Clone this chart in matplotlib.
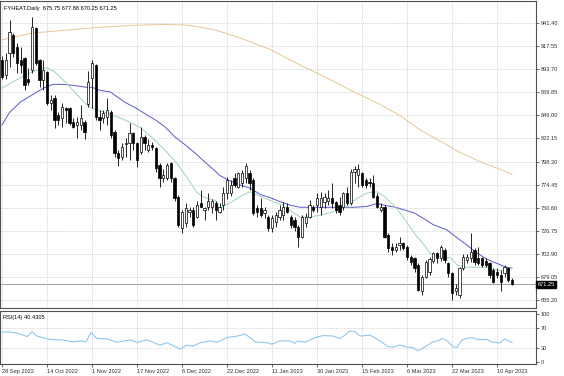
import numpy as np
import matplotlib.pyplot as plt

# daily candles, bar 0 = 28 Sep 2022
opens = [903, 888, 910, 929, 917, 903, 905, 884, 893, 936, 903, 882, 891, 859, 864, 846, 843, 854, 854, 839,
         836, 836, 839, 858, 885, 898, 844, 843, 844, 849, 829, 807, 803, 816, 817, 828, 817, 808, 824, 810,
         815, 812, 795, 781, 781, 797, 781, 762, 730, 735, 746, 748, 741, 755, 748, 751, 751, 755, 746, 753,
         766, 766, 781, 772, 776, 781, 786, 779, 750, 750, 745, 741, 730, 736, 741, 743, 751, 741, 738, 731,
         720, 735, 741, 751, 753, 751, 756, 758, 761, 756, 753, 751, 766, 755, 787, 784, 786, 779, 777, 776,
         763, 748, 751, 722, 710, 707, 712, 714, 710, 700, 699, 691, 664, 679, 684, 696, 704, 699, 707, 693,
         683, 665, 660, 688, 697, 699, 707, 699, 699, 696, 693, 686, 684, 681, 683, 688, 675.75]
highs = [907, 910, 944, 931, 921, 917, 906, 895, 948, 937, 904, 903, 892, 867, 867, 849, 859, 855, 855, 843,
         844, 857, 841, 892, 903, 899, 851, 851, 864, 851, 831, 810, 817, 823, 838, 829, 818, 834, 826, 822,
         818, 813, 797, 791, 797, 798, 782, 764, 748, 755, 751, 751, 757, 769, 751, 766, 760, 758, 755, 772,
         782, 779, 786, 787, 790, 797, 790, 781, 753, 761, 751, 743, 743, 746, 753, 756, 755, 743, 741, 733,
         743, 745, 759, 753, 766, 767, 766, 769, 776, 758, 762, 767, 772, 791, 794, 796, 787, 781, 781, 784,
         766, 755, 753, 724, 714, 714, 720, 715, 712, 702, 700, 693, 681, 697, 700, 705, 705, 712, 709, 694,
         684, 672, 689, 703, 703, 724, 709, 710, 700, 699, 694, 688, 688, 686, 691, 689, 677.88]
lows = [884, 884, 896, 906, 890, 890, 872, 877, 890, 898, 875, 872, 857, 851, 833, 836, 834, 838, 836, 833,
        823, 831, 822, 855, 854, 841, 831, 838, 836, 823, 803, 794, 800, 803, 800, 810, 793, 806, 810, 808,
        810, 787, 772, 777, 779, 777, 758, 731, 724, 731, 741, 731, 740, 751, 738, 748, 745, 738, 745, 748,
        760, 763, 772, 771, 772, 776, 769, 743, 741, 741, 740, 727, 725, 731, 738, 738, 745, 730, 727, 710,
        719, 731, 740, 746, 746, 743, 750, 753, 750, 745, 743, 748, 753, 753, 776, 772, 772, 771, 772, 761,
        750, 746, 719, 705, 702, 705, 707, 707, 697, 691, 684, 664, 660, 678, 681, 693, 693, 696, 693, 679,
        655, 660, 657, 686, 693, 694, 691, 691, 689, 689, 678, 673, 678, 665, 679, 674, 670.25]
closes = [886, 903, 932, 910, 900, 898, 877, 880, 937, 900, 882, 893, 859, 862, 841, 841, 855, 852, 838, 834,
          839, 843, 829, 880, 900, 844, 841, 848, 851, 826, 807, 802, 813, 817, 828, 817, 800, 824, 817, 815,
          813, 792, 781, 784, 795, 781, 761, 733, 746, 750, 748, 733, 753, 751, 750, 757, 757, 748, 751, 766,
          779, 774, 774, 786, 786, 794, 776, 745, 746, 743, 748, 730, 740, 743, 748, 751, 746, 733, 731, 720,
          741, 741, 753, 748, 761, 761, 762, 761, 755, 748, 746, 766, 755, 787, 791, 791, 774, 774, 776, 762,
          751, 751, 720, 709, 707, 710, 714, 709, 700, 694, 688, 666, 679, 694, 698, 704, 699, 710, 697, 683,
          662, 668, 688, 700, 700, 705, 694, 693, 691, 691, 681, 674, 681, 674, 689, 676, 671.25]

# moving averages (bar index, price)
ma_fast_x = [0, 3.5, 7.5, 11, 12, 14, 17, 22, 23.5, 27.5, 31, 34, 37, 40, 43.5, 46.5, 49.5, 52, 54, 57, 58, 61,
             63.5, 66, 68, 71.5, 75, 77.5, 79.5, 82, 85, 88, 91.5, 95, 97.5, 100, 102, 105, 107.5, 110, 113, 114,
             117, 119.5, 121.5, 124, 126.5, 129.5, 132, 133.5, 136]
ma_fast = [874, 882, 890, 895, 895, 891, 880, 859, 854, 849, 844, 839, 833, 823, 810, 797, 781, 766, 761, 758,
           750, 756, 762, 767, 764, 758, 753, 746, 741, 741, 743, 746, 751, 761, 766, 767, 762, 751, 738, 724,
           710, 704, 700, 699, 691, 689, 689, 689, 686, 686, 688]
ma_mid_x = [0, 2, 5, 8, 11, 13.5, 16, 19, 22.5, 24, 26, 29, 30, 33, 35.5, 38, 41, 43.5, 46, 49, 51.5, 54, 57,
            58, 61, 63.5, 66, 69, 71.5, 74, 77, 79.5, 85, 89, 94, 97.5, 100, 102, 105, 107.5, 110, 113, 115,
            118.5, 121.5, 124, 126.5, 129.5, 132, 134.5, 136]
ma_mid = [836, 849, 860, 867, 874, 878, 878, 877, 875, 875, 872, 870, 867, 859, 854, 848, 841, 834, 824, 815,
          807, 798, 788, 784, 778, 774, 771, 764, 761, 757, 753, 751, 751, 751, 751, 752, 755, 753, 751, 748,
          745, 738, 733, 728, 719, 712, 704, 697, 693, 689, 688]
ma_slow_x = [0, 8, 17, 26, 35, 44, 50, 53, 57, 63.5, 71.5, 79.5, 87.5, 94, 101, 106, 111.5, 117, 122, 127.5, 133, 136]
ma_slow = [924, 931, 934, 937, 939, 940, 939, 937, 934, 926, 914, 898, 883, 870, 857, 846, 831, 819, 808, 798, 790, 785]

rsi_x = [0, 1.6, 4, 6.7, 8, 9.3, 12.8, 16.3, 18.7, 21.3, 22.4, 23.7, 25.3, 28, 30.7, 34.1, 36, 38.7, 42.1, 44,
         47.5, 49.3, 51, 52.8, 55.5, 57.3, 60, 62.7, 64.8, 66.1, 67.5, 70.7, 72, 74.1, 76.8, 78.1, 78.9, 80.8,
         83.5, 85.6, 88.3, 90.1, 91.5, 92.8, 94.1, 95.5, 98.1, 100.8, 102.9, 104.3, 106.1, 108, 109.6, 110.9,
         112.8, 114.9, 116.3, 117.3, 118.7, 120.3, 121.3, 122.7, 124, 125.3, 126.7, 129.3, 130.9, 132.8, 134.1,
         135.5, 136]
rsi = [62, 63, 60, 53, 63, 54, 47, 46, 42, 44, 42, 61, 49, 48, 41, 46, 41, 46, 35, 40,
       27, 35, 33, 40, 44, 41, 51, 54, 58, 51, 42, 40, 37, 44, 44, 39, 44, 41,
       51, 55, 54, 49, 56, 65, 63, 54, 56, 44, 32, 31, 35, 31, 30, 23,
       32, 42, 44, 49, 44, 32, 30, 46, 49, 51, 47, 47, 41, 40, 48,
       42, 40.43]

price_ticks = [655.20, 679.05, 702.90, 726.75, 750.60, 774.45, 798.30, 822.15, 846.00, 869.85, 893.70, 917.55, 941.40]
date_pos = [0, 12, 24, 36, 48, 60, 72, 84, 96, 108, 120, 132]
date_labels = ['28 Sep 2022', '14 Oct 2022', '1 Nov 2022', '17 Nov 2022', '6 Dec 2022', '22 Dec 2022',
               '11 Jan 2023', '30 Jan 2023', '15 Feb 2023', '6 Mar 2023', '22 Mar 2023', '10 Apr 2023']
rsi_ticks = [0, 30, 70, 100]

plt.rcParams['font.family'] = ['Liberation Sans', 'DejaVu Sans']
fs = 4.1
W, H = 564, 376
fig = plt.figure(figsize=(W / 100, H / 100), dpi=100)
ax = fig.add_axes([0, 1 - 308 / H, 536 / W, 307 / H])
ax2 = fig.add_axes([0, 1 - 364 / H, 536 / W, 53 / H])

x = np.arange(len(closes))
o = np.array(opens); c = np.array(closes)
up = c >= o
ax.vlines(x, lows, highs, color='black', lw=0.6, zorder=3)
body_lo = np.minimum(o, c)
body_h = np.maximum(np.abs(c - o), 0.8)
ax.bar(x[up], body_h[up], bottom=body_lo[up], width=0.62, color='white', edgecolor='black', lw=0.5, zorder=4)
ax.bar(x[~up], body_h[~up], bottom=body_lo[~up], width=0.62, color='black', edgecolor='black', lw=0.5, zorder=4)

ax.plot(ma_slow_x, ma_slow, color='#e8c49c', lw=0.7, zorder=2)
ax.plot(ma_mid_x, ma_mid, color='#5a5ac8', lw=0.7, zorder=2)
ax.plot(ma_fast_x, ma_fast, color='#9fd4b4', lw=0.7, zorder=2)

# bid line
ax.axhline(closes[-1], color='#a0a0a0', lw=0.7, zorder=1)
ax.text(1.003, closes[-1], '%.2f' % closes[-1], transform=ax.get_yaxis_transform(), color='white',
        fontsize=fs, va='center', ha='left',
        bbox=dict(boxstyle='square,pad=0.25', fc='black', ec='black'), clip_on=False, zorder=6)

xl = (-2 / 3.75, 534 / 3.75)
for a in (ax, ax2):
    a.set_xlim(*xl)
    a.set_facecolor('white')
    for s in a.spines.values():
        s.set_color('#505050')
        s.set_linewidth(0.8)
    a.yaxis.tick_right()
    a.tick_params(axis='y', length=2, width=0.5, labelsize=fs, pad=1.5, colors='#303030')
    a.set_xticks(date_pos)
    a.grid(True, color='#c4c4c4', lw=0.5, linestyle=(0, (1.5, 1.5)))

ax.set_ylim(941.40 - 285 * 1.0332, 941.40 + 22 * 1.0332)
ax.set_yticks(price_ticks)
ax.set_yticklabels(['%.2f' % p for p in price_ticks])
ax.tick_params(axis='x', length=0, labelbottom=False)
ax.text(0.007, 0.985, 'FYHEAT,Daily  675.75 677.88 670.25 671.25', transform=ax.transAxes,
        fontsize=fs, va='top', ha='left', color='black')

ax2.plot(rsi_x, rsi, color='#8ec8ee', lw=0.8)
ax2.set_ylim(-4.17, 106.25)
ax2.set_yticks(rsi_ticks)
ax2.set_yticklabels([str(v) for v in rsi_ticks])
ax2.grid(False, axis='y')
for lvl in (30, 70):
    ax2.axhline(lvl, color='#c4c4c4', lw=0.5, linestyle=(0, (1.5, 1.5)))
ax2.set_xticklabels(date_labels, ha='left')
ax2.tick_params(axis='x', length=2, width=0.5, labelsize=fs, pad=1.5, colors='#303030')
ax2.text(0.005, 0.93, 'RSI(14) 40.4305', transform=ax2.transAxes, fontsize=fs, va='top', ha='left')

fig.savefig('out.png', dpi=100, facecolor='white')
